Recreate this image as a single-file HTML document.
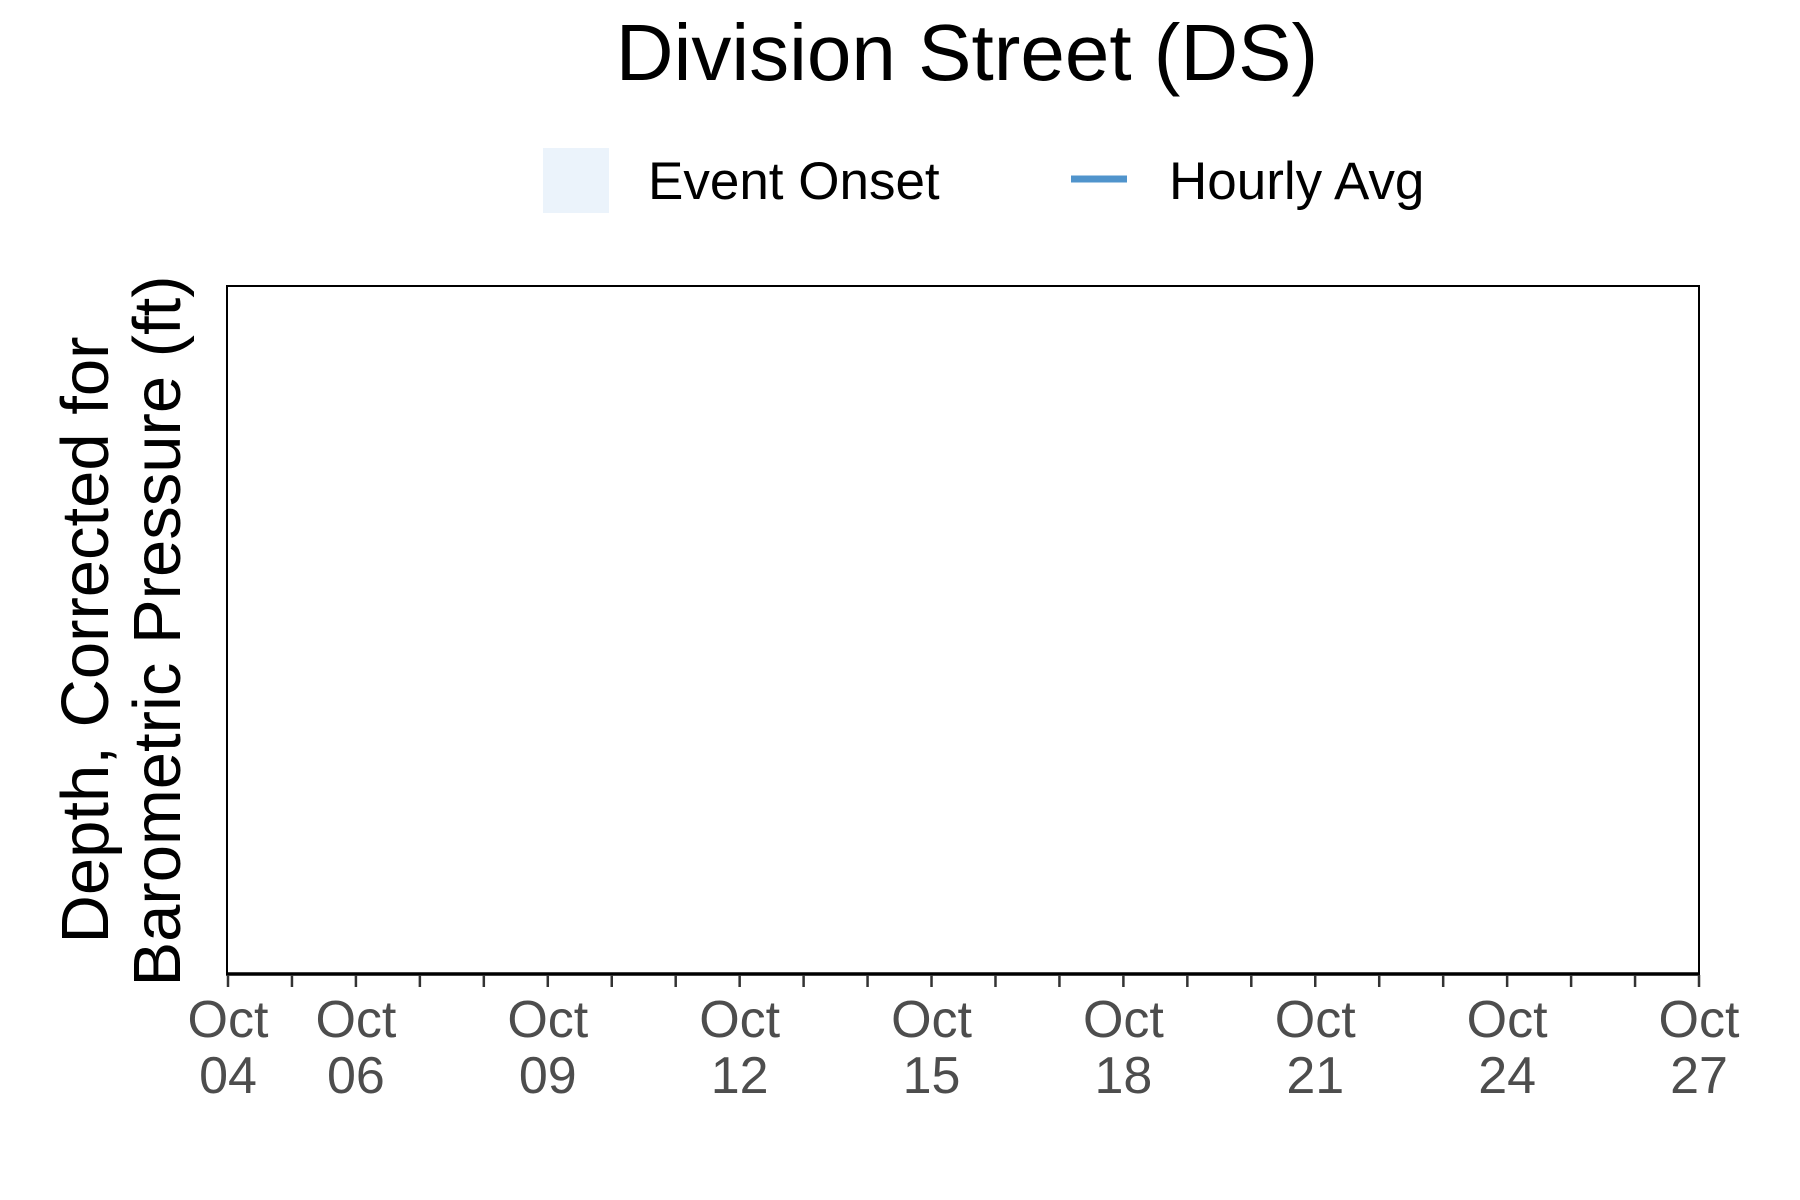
<!DOCTYPE html>
<html><head><meta charset="utf-8"><style>
html,body{margin:0;padding:0;background:#fff;}
svg{display:block;font-family:"Liberation Sans",Arial,sans-serif;}
</style></head><body>
<svg id="chart" width="1800" height="1200" viewBox="0 0 1800 1200">
<text x="967" y="80" font-size="80" text-anchor="middle" fill="#000">Division Street (DS)</text>
<g>
<rect x="543" y="148" width="66" height="65" fill="#ebf3fb"/>
<text x="648" y="199" font-size="53" fill="#000">Event Onset</text>
<line x1="1071" y1="179" x2="1127" y2="179" stroke="#5094cc" stroke-width="7"/>
<text x="1169" y="199" font-size="53" fill="#000">Hourly Avg</text>
</g>
<rect x="227" y="286" width="1472" height="688" fill="none" stroke="#000" stroke-width="2"/>
<line x1="226" y1="974" x2="1700" y2="974" stroke="#000" stroke-width="3.5"/>
<g id="xticks"></g>
<text transform="translate(108,640) rotate(-90)" font-size="67" text-anchor="middle" fill="#000">Depth, Corrected for</text>
<text transform="translate(180,631) rotate(-90)" font-size="67" text-anchor="middle" fill="#000">Barometric Pressure (ft)</text>
</svg>
<script>
const tickDays = [4,5,6,7,8,9,10,11,12,13,14,15,16,17,18,19,20,21,22,23,24,25,26,27];
const labelDays = [4,6,9,12,15,18,21,24,27];
const labelText = ["04","06","09","12","15","18","21","24","27"];
const xMin = 4, xMax = 27, px0 = 228, px1 = 1699;
function xs(d){return px0 + (d - xMin) / (xMax - xMin) * (px1 - px0);}
const g = document.getElementById('xticks');
const NS = 'http://www.w3.org/2000/svg';
tickDays.forEach(d => {
  const l = document.createElementNS(NS,'line');
  l.setAttribute('x1', xs(d)); l.setAttribute('x2', xs(d));
  l.setAttribute('y1', 975); l.setAttribute('y2', 987);
  l.setAttribute('stroke', '#333'); l.setAttribute('stroke-width', '2.5');
  
  
  g.appendChild(l);
});
labelDays.forEach((d, i) => {
  const t = document.createElementNS(NS,'text');
  t.setAttribute('x', xs(d)); t.setAttribute('text-anchor', 'middle');
  t.setAttribute('font-size', '52'); t.setAttribute('fill', '#4d4d4d');
  
  
  const a = document.createElementNS(NS,'tspan');
  a.setAttribute('x', xs(d)); a.setAttribute('y', 1037); a.textContent = 'Oct';
  const b = document.createElementNS(NS,'tspan');
  b.setAttribute('x', xs(d)); b.setAttribute('y', 1093); b.textContent = labelText[i];
  t.appendChild(a); t.appendChild(b);
  g.appendChild(t);
});
</script>
</body></html>
